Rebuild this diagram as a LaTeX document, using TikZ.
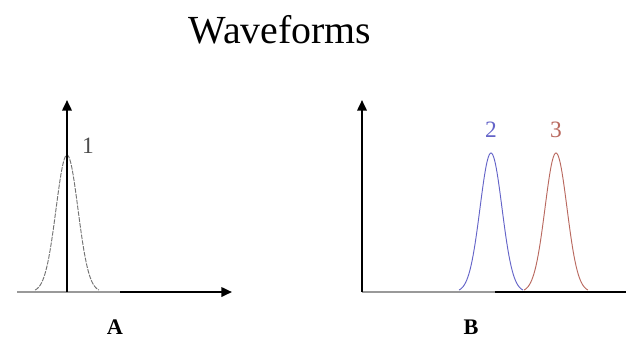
\documentclass[tikz,border=0pt]{standalone}
\usepackage{fontspec}
\setmainfont{Liberation Serif}
\usetikzlibrary{arrows.meta, positioning}

\definecolor{peakblue}{RGB}{100,100,200}
\definecolor{peakred}{RGB}{185,105,95}

\begin{document}
\begin{tikzpicture}[x=0.03cm, y=-0.03cm,
    axis/.style={line width=1.8pt, -{Triangle[length=9pt, width=8pt]}},
    axisgray/.style={line width=1.8pt, gray!80},
    peak/.style={line width=0.8pt},
    lbl/.style={font=\fontsize{20}{22}\selectfont, inner sep=0pt}]
  \useasboundingbox (0,0) rectangle (626,351);
  % title
  \node[font=\fontsize{34}{38}\selectfont, inner sep=0pt] (title) at (280,30) {Waveforms};

  % panel A
  \coordinate (oA) at (67,292);
  \coordinate (lA) at (17,292);
  \coordinate (mA) at (120,292);
  \coordinate (xA) at (232,292);
  \coordinate (yA) at (67,100);
  \draw[peak, gray!90!black, dash pattern=on 4pt off 1pt] plot[domain=-32:32, samples=60] ({67+\x},{292-137*exp(-\x*\x/240)});
  \draw[axisgray] (lA) -- (mA);
  \draw[axis] (mA) -- (xA);
  \draw[axis] (oA) -- (yA);
  \node[lbl, text=black!70] (one) at (88,146) {1};
  \node[font=\fontsize{19}{21}\selectfont\bfseries, inner sep=0pt] (labA) at (115,327) {A};

  % panel B
  \coordinate (oB) at (362,292);
  \coordinate (mB) at (495,292);
  \coordinate (xB) at (626,292);
  \coordinate (yB) at (362,100);
  \draw[peak, peakblue] plot[domain=-32:32, samples=60] ({491+\x},{292-139*exp(-\x*\x/240)});
  \draw[peak, peakred] plot[domain=-32:32, samples=60] ({556+\x},{292-139*exp(-\x*\x/240)});
  \draw[axisgray] (oB) -- (mB);
  \draw[line width=1.8pt] (mB) -- (xB);
  \draw[axis] (oB) -- (yB);
  \node[lbl, text=peakblue] (two) at (491,130) {2};
  \node[lbl, text=peakred] (three) at (556,130) {3};
  \node[font=\fontsize{19}{21}\selectfont\bfseries, inner sep=0pt] (labB) at (471,327) {B};
\end{tikzpicture}
\end{document}
